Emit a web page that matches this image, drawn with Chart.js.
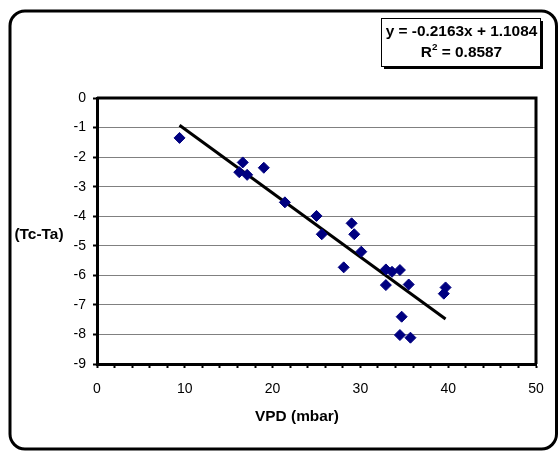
<!DOCTYPE html>
<html>
<head>
<meta charset="utf-8">
<script src="https://cdn.jsdelivr.net/npm/chart.js@4.4.1/dist/chart.umd.min.js"></script>
<style>
  html, body { margin: 0; padding: 0; background: #fff; }
  canvas { display: block; }
</style>
</head>
<body>
<canvas id="chart" width="558" height="453"></canvas>
<script>
// VPD (mbar) readings and canopy-air temperature difference (Tc-Ta)
const vpd = [9.4, 16.6, 16.2, 17.1, 19.0, 21.4, 25.0, 25.6, 29.0, 29.3, 30.1, 28.1,
             32.9, 33.6, 34.5, 32.9, 35.5, 39.7, 39.5, 34.7, 34.5, 35.7];
const tcTa = [-1.35, -2.18, -2.51, -2.6, -2.36, -3.53, -3.99, -4.61, -4.24, -4.61, -5.2, -5.73,
              -5.8, -5.88, -5.82, -6.33, -6.31, -6.41, -6.62, -7.4, -8.02, -8.11];

// Linear trend line from the reference
const slope = -0.2163;
const intercept = 1.1084;
const rSquared = '0.8587';
const trendRange = [9.4, 39.7];

const xTicks = [0, 10, 20, 30, 40, 50];
const yTicks = [0, -1, -2, -3, -4, -5, -6, -7, -8, -9];

const points = vpd.map((x, i) => ({ x: x, y: tcTa[i] }));
const trend = trendRange.map(x => ({ x: x, y: slope * x + intercept }));

const FONT = 'Arial, "Liberation Sans", sans-serif';
const BOLD = 'bold 14px ' + FONT;
const STRETCH = 1.1;

// draw bold text a little wider, like the reference
function wideText(ctx, text, x, y, align) {
    ctx.save();
    ctx.translate(x, y);
    ctx.scale(STRETCH, 1);
    ctx.textAlign = align || 'center';
    ctx.fillText(text, 0, 0);
    ctx.restore();
}

const decor = {
    id: 'decor',
    beforeDraw(chart) {
        const ctx = chart.ctx;
        ctx.save();
        ctx.fillStyle = '#fff';
        ctx.fillRect(0, 0, chart.width, chart.height);
        ctx.restore();
    },
    afterDraw(chart) {
        const ctx = chart.ctx;
        const a = chart.chartArea;
        ctx.save();

        // outer rounded frame
        ctx.strokeStyle = '#000';
        ctx.lineWidth = 3;
        ctx.beginPath();
        ctx.roundRect(10, 11, 546.5, 438, 15);
        ctx.stroke();

        // top and right edges of the plot box
        ctx.beginPath();
        ctx.moveTo(a.left, a.top);
        ctx.lineTo(a.right, a.top);
        ctx.lineTo(a.right, a.bottom);
        ctx.stroke();

        // equation box with shadow
        const bx = 381, by = 18, bw = 159, bh = 48;
        ctx.fillStyle = '#000';
        ctx.fillRect(bx + 3, by + 3, bw, bh);
        ctx.fillStyle = '#fff';
        ctx.fillRect(bx, by, bw, bh);
        ctx.lineWidth = 1;
        ctx.strokeRect(bx + 0.5, by + 0.5, bw, bh);

        ctx.fillStyle = '#000';
        ctx.font = BOLD;
        ctx.textBaseline = 'middle';
        wideText(ctx, 'y = ' + slope + 'x + ' + intercept, bx + bw / 2 + 1, by + 14);

        const rest = ' = ' + rSquared;
        const wR = ctx.measureText('R').width * STRETCH;
        const wRest = ctx.measureText(rest).width * STRETCH;
        ctx.font = 'bold 9px ' + FONT;
        const w2 = ctx.measureText('2').width * STRETCH;
        const sx = bx + bw / 2 + 1 - (wR + w2 + wRest) / 2;
        ctx.font = BOLD;
        wideText(ctx, 'R', sx, by + 35, 'left');
        ctx.font = 'bold 9px ' + FONT;
        wideText(ctx, '2', sx + wR, by + 30, 'left');
        ctx.font = BOLD;
        wideText(ctx, rest, sx + wR + w2, by + 35, 'left');

        // axis titles
        wideText(ctx, '(Tc-Ta)', 39, 235);
        wideText(ctx, 'VPD (mbar)', 297, 417);

        ctx.restore();
    }
};

new Chart(document.getElementById('chart').getContext('2d'), {
    type: 'scatter',
    data: {
        datasets: [{
            label: 'Tc-Ta',
            data: points,
            pointStyle: 'rectRot',
            pointRadius: 5.5,
            pointBackgroundColor: '#000080',
            pointBorderColor: '#000080',
            pointBorderWidth: 1
        }, {
            type: 'line',
            label: 'Linear',
            data: trend,
            borderColor: '#000',
            borderWidth: 3,
            pointRadius: 0,
            fill: false
        }]
    },
    plugins: [decor],
    options: {
        responsive: false,
        devicePixelRatio: 1,
        animation: false,
        layout: { padding: { left: 0, top: 98, right: 22, bottom: 0 } },
        plugins: {
            legend: { display: false },
            tooltip: { enabled: false }
        },
        scales: {
            x: {
                type: 'linear',
                min: 0,
                max: 50,
                afterFit(scale) { scale.height = 89; },
                ticks: {
                    stepSize: 2,
                    autoSkip: false,
                    maxRotation: 0,
                    padding: 13,
                    color: '#000',
                    font: { family: FONT, size: 14 },
                    callback: v => xTicks.includes(v) ? v : ''
                },
                grid: {
                    drawOnChartArea: false,
                    tickColor: '#000',
                    tickLength: 4,
                    tickWidth: 2
                },
                border: { color: '#000', width: 3 }
            },
            y: {
                min: -9,
                max: 0,
                afterFit(scale) { scale.width = 97; },
                afterBuildTicks(scale) { scale.ticks = yTicks.map(v => ({ value: v })); },
                ticks: {
                    padding: 7,
                    color: '#000',
                    font: { family: FONT, size: 14 }
                },
                grid: {
                    color: '#808080',
                    lineWidth: 1,
                    tickColor: '#000',
                    tickLength: 4,
                    tickWidth: 2
                },
                border: { color: '#000', width: 3 }
            }
        }
    }
});
</script>
</body>
</html>
